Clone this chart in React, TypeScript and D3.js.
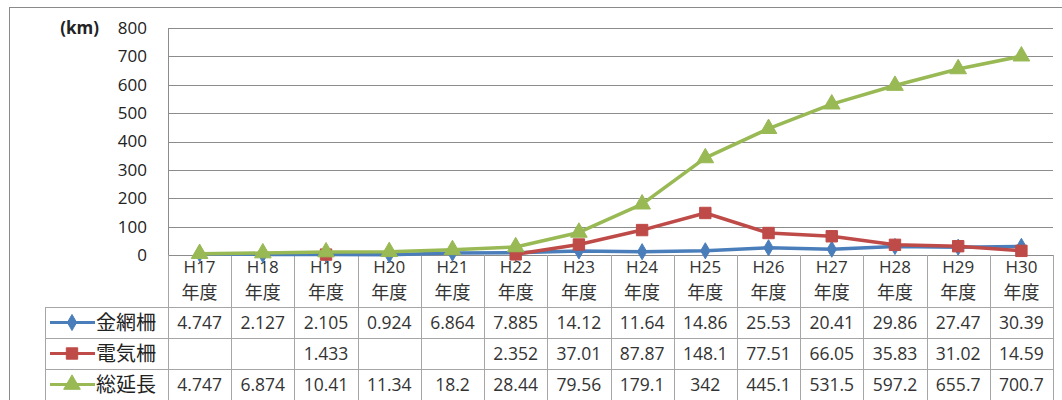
import * as React from 'react';
import * as d3 from "d3";

const categories = ["H17", "H18", "H19", "H20", "H21", "H22", "H23", "H24", "H25", "H26", "H27", "H28", "H29", "H30"];
const kanaami: (number | null)[] = [4.747, 2.127, 2.105, 0.924, 6.864, 7.885, 14.12, 11.64, 14.86, 25.53, 20.41, 29.86, 27.47, 30.39];
const denki: (number | null)[] = [null, null, 1.433, null, null, 2.352, 37.01, 87.87, 148.1, 77.51, 66.05, 35.83, 31.02, 14.59];
const souencho: (number | null)[] = [4.747, 6.874, 10.41, 11.34, 18.2, 28.44, 79.56, 179.1, 342, 445.1, 531.5, 597.2, 655.7, 700.7];
const yTicks = [0, 100, 200, 300, 400, 500, 600, 700, 800];

interface Serie {
    name: string;
    color: string;
    marker: "diamond" | "square" | "triangle";
    values: (number | null)[];
}

const series: Serie[] = [
    { name: "金網柵", color: "#4a7ebb", marker: "diamond", values: kanaami },
    { name: "電気柵", color: "#be4b48", marker: "square", values: denki },
    { name: "総延長", color: "#98b954", marker: "triangle", values: souencho },
];

const font = "'Open Sans', 'Noto Sans CJK JP', sans-serif";
const W = 1062, H = 400;
const plot = { left: 168, right: 1053, top: 28, bottom: 255 };
const rowTop = 307, rowH = 31, tableLeft = 45;

function Marker({ type, x, y, color }: { type: Serie["marker"]; x: number; y: number; color: string }) {
    const sym = type === "diamond" ? d3.symbolDiamond : type === "square" ? d3.symbolSquare : d3.symbolTriangle;
    const size = type === "diamond" ? 75 : type === "square" ? 130 : 120;
    const path = d3.symbol().type(sym).size(size)() || undefined;
    return <path d={path} transform={`translate(${x},${y})`} fill={color} stroke={color} strokeWidth={1} />;
}

export default function App() {
    const x = d3.scaleBand<string>().domain(categories).range([plot.left, plot.right]);
    const y = d3.scaleLinear().domain([0, 800]).range([plot.bottom, plot.top]);
    const cx = (c: string) => (x(c) || 0) + x.bandwidth() / 2;
    const grid = "#8c8c8c";
    const cell = "#a6a6a6";

    const line = d3.line<number | null>()
        .defined(v => v != null)
        .x((_, i) => cx(categories[i]))
        .y(v => y(v as number));

    return (
        <svg width={W} height={H} style={{ position: "absolute", left: 0, top: 0, background: "#fff" }} fontFamily={font}>
            <rect x={0} y={0} width={W} height={H} fill="#fff" />
            {/* outer frame */}
            <rect x={9.5} y={7.5} width={W + 20} height={H + 20} fill="none" stroke="#8a8a8a" strokeWidth={1} />

            {/* grid lines */}
            {yTicks.map(t => (
                <line key={t} x1={plot.left} x2={plot.right} y1={Math.round(y(t)) + 0.5} y2={Math.round(y(t)) + 0.5} stroke={grid} strokeWidth={1} />
            ))}
            {yTicks.map(t => (
                <text key={"l" + t} x={147} y={y(t)} dy="0.35em" textAnchor="end" fontSize={17} fill="#222">{t}</text>
            ))}
            <text x={99} y={y(800)} dy="0.35em" textAnchor="end" fontSize={17} fontWeight="bold" fill="#222">(km)</text>
            <line x1={plot.left + 0.5} x2={plot.left + 0.5} y1={plot.top} y2={plot.bottom} stroke={grid} />

            {/* table grid */}
            {categories.map((c, i) => (
                <line key={"v" + i} x1={Math.round(x(c) || 0) + 0.5} x2={Math.round(x(c) || 0) + 0.5} y1={plot.bottom} y2={H} stroke={cell} />
            ))}
            <line x1={plot.right + 0.5} x2={plot.right + 0.5} y1={plot.bottom} y2={H} stroke={cell} />
            <line x1={tableLeft + 0.5} x2={tableLeft + 0.5} y1={rowTop} y2={H} stroke={cell} />
            {[0, 1, 2, 3].map(r => (
                <line key={"h" + r} x1={tableLeft} x2={plot.right} y1={rowTop + r * rowH + 0.5} y2={rowTop + r * rowH + 0.5} stroke={cell} />
            ))}

            {/* category headers */}
            {categories.map(c => (
                <g key={"c" + c}>
                    <text x={cx(c)} y={267} dy="0.35em" textAnchor="middle" fontSize={17} fill="#333">{c}</text>
                    <text x={cx(c)} y={293} dy="0.35em" textAnchor="middle" fontSize={18} fill="#333">年度</text>
                </g>
            ))}

            {/* table rows */}
            {series.map((s, r) => {
                const my = rowTop + r * rowH + rowH / 2;
                return (
                    <g key={"r" + s.name}>
                        <line x1={50} x2={95} y1={my} y2={my} stroke={s.color} strokeWidth={3} />
                        <Marker type={s.marker} x={72} y={my} color={s.color} />
                        <text x={96} y={my} dy="0.35em" fontSize={20} fill="#222">{s.name}</text>
                        {s.values.map((v, i) => v == null ? null : (
                            <text key={i} x={cx(categories[i])} y={my} dy="0.35em" textAnchor="middle" fontSize={17.5} fill="#333">{v}</text>
                        ))}
                    </g>
                );
            })}

            {/* series lines */}
            {series.map(s => (
                <g key={"s" + s.name}>
                    <path d={line(s.values) || undefined} fill="none" stroke={s.color} strokeWidth={3.5} strokeLinejoin="round" />
                    {s.values.map((v, i) => v == null ? null : (
                        <Marker key={i} type={s.marker} x={cx(categories[i])} y={y(v)} color={s.color} />
                    ))}
                </g>
            ))}
        </svg>
    );
}
